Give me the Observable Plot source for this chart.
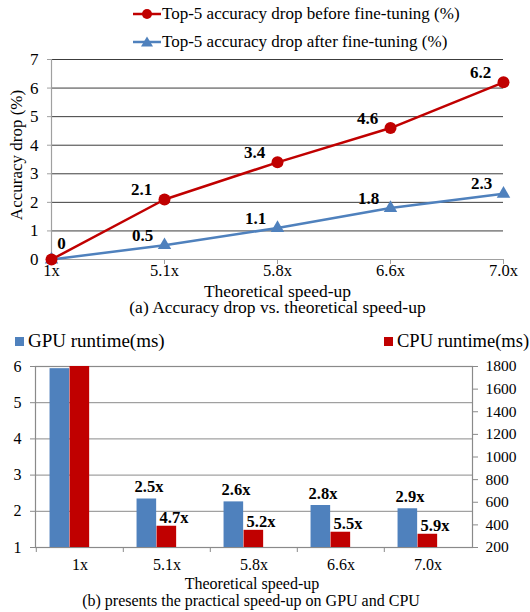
<!DOCTYPE html>
<html><head><meta charset="utf-8">
<script src="https://cdn.jsdelivr.net/npm/d3@7"></script>
<script src="https://cdn.jsdelivr.net/npm/@observablehq/plot@0.6"></script>
<style>
body{margin:0;background:#fff;font-family:"Liberation Serif","Times New Roman",Tinos,"DejaVu Serif",serif;}
#wrap{position:relative;width:530px;height:612px;overflow:hidden;background:#fff;}
.abs{position:absolute;white-space:nowrap;color:#000;line-height:0.9;font-family:"Liberation Serif","Times New Roman",Tinos,"DejaVu Serif",serif;}
svg{overflow:visible;}
</style></head><body><div id="wrap"></div>
<script>
// ---------- data ----------
const speedups = ["1x", "5.1x", "5.8x", "6.6x", "7.0x"];
const dropBefore = [0, 2.1, 3.4, 4.6, 6.2];
const dropAfter = [0, 0.5, 1.1, 1.8, 2.3];
const lineNames = ["Top-5 accuracy drop before fine-tuning (%)", "Top-5 accuracy drop after fine-tuning (%)"];
const accTicks = [0, 1, 2, 3, 4, 5, 6, 7];

const gpuRuntime = [5.94, 2.34, 2.26, 2.16, 2.07];
const cpuRuntime = [1800, 388, 352, 335, 317];
const gpuSpeedLabels = ["", "2.5x", "2.6x", "2.8x", "2.9x"];
const cpuSpeedLabels = ["", "4.7x", "5.2x", "5.5x", "5.9x"];
const barNames = ["GPU runtime(ms)", "CPU runtime(ms)"];
const gpuTicks = [1, 2, 3, 4, 5, 6];
const cpuTicks = [200, 400, 600, 800, 1000, 1200, 1400, 1600, 1800];

const titleX = "Theoretical speed-up";
const titleY = "Accuracy drop (%)";
const captionA = "(a) Accuracy drop vs. theoretical speed-up";
const captionB = "(b) presents the practical speed-up on GPU and CPU";

// ---------- styles ----------
const RED = "#C00000", BLUE = "#4F81BD";
const FONT = "'Liberation Serif', 'Times New Roman', Tinos, 'DejaVu Serif', serif";
const wrap = document.getElementById("wrap");

function addText(txt, left, top, size, extra = "") {
  const d = document.createElement("div");
  d.className = "abs";
  d.textContent = txt;
  d.style.cssText += `left:${left}px;top:${top}px;font-size:${size}px;${extra}`;
  wrap.appendChild(d);
  return d;
}
function place(el, top) {
  el.style.position = "absolute";
  el.style.left = "0px";
  el.style.top = top + "px";
  wrap.appendChild(el);
}

// ---------- top chart ----------
const lineRows = speedups.flatMap((s, i) => [
  {s, v: dropBefore[i], series: lineNames[0], i},
  {s, v: dropAfter[i], series: lineNames[1], i}
]);
const before = lineRows.filter(d => d.series === lineNames[0]);
const after = lineRows.filter(d => d.series === lineNames[1]);

const topPlot = Plot.plot({
  width: 530, height: 240,
  marginLeft: 51, marginRight: 27, marginTop: 9, marginBottom: 31,
  style: {fontFamily: FONT, fontSize: "17px", background: "transparent", color: "#000"},
  x: {type: "point", domain: speedups, padding: 0},
  y: {domain: [0, 7]},
  marks: [
    Plot.gridY(accTicks.filter(d => d > 0), {stroke: "#3c3c3c", strokeOpacity: 1, strokeWidth: 1}),
    Plot.ruleY([0], {stroke: "#a0a0a0", strokeWidth: 1.2}),
    Plot.ruleX([speedups[0]], {stroke: "#a0a0a0", strokeWidth: 1.2}),
    Plot.axisY(accTicks, {tickSize: 4, tickPadding: 9, stroke: "#a0a0a0", fill: "#000", fontSize: 17, fontFamily: FONT, label: null}),
    Plot.axisX(speedups, {tickSize: 5, tickPadding: 0, stroke: "#a0a0a0", fill: "#000", fontSize: 16.5, fontFamily: FONT, label: null}),
    Plot.line(after, {x: "s", y: "v", stroke: BLUE, strokeWidth: 2.5}),
    Plot.dot(after, {x: "s", y: "v", symbol: "triangle", r: 5, fill: BLUE, stroke: null}),
    Plot.line(before, {x: "s", y: "v", stroke: RED, strokeWidth: 2.5}),
    Plot.dot(before, {x: "s", y: "v", symbol: "circle", r: 6, fill: RED, stroke: null}),
    Plot.text(before.filter(d => d.i > 0), {x: "s", y: "v", text: d => String(d.v), dx: -23, dy: -10, fontWeight: "bold", fontSize: 17, fontFamily: FONT, fill: "#000"}),
    Plot.text(before.filter(d => d.i === 0), {x: "s", y: "v", text: d => String(d.v), dx: 10, dy: -16, fontWeight: "bold", fontSize: 17, fontFamily: FONT, fill: "#000"}),
    Plot.text(after.filter(d => d.i > 0), {x: "s", y: "v", text: d => String(d.v), dx: -22, dy: -10, fontWeight: "bold", fontSize: 17, fontFamily: FONT, fill: "#000"})
  ]
});
place(topPlot, 50);

// top legend
function legendLine(color, symbol, cy, label) {
  const ns = "http://www.w3.org/2000/svg";
  const s = document.createElementNS(ns, "svg");
  s.setAttribute("width", 30); s.setAttribute("height", 14);
  s.style.cssText = `position:absolute;left:132px;top:${cy - 7}px;`;
  const l = document.createElementNS(ns, "line");
  l.setAttribute("x1", 1); l.setAttribute("x2", 29); l.setAttribute("y1", 7); l.setAttribute("y2", 7);
  l.setAttribute("stroke", color); l.setAttribute("stroke-width", 2.5);
  s.appendChild(l);
  if (symbol === "circle") {
    const c = document.createElementNS(ns, "circle");
    c.setAttribute("cx", 15); c.setAttribute("cy", 7); c.setAttribute("r", 5); c.setAttribute("fill", color);
    s.appendChild(c);
  } else {
    const p = document.createElementNS(ns, "path");
    p.setAttribute("d", "M15,1.5L21,11.5L9,11.5Z"); p.setAttribute("fill", color);
    s.appendChild(p);
  }
  wrap.appendChild(s);
  addText(label, 162, cy, 17, "transform:translateY(-50%);");
}
legendLine(RED, "circle", 14, lineNames[0]);
legendLine(BLUE, "triangle", 42, lineNames[1]);

addText(titleY, 17, 155, 17, "transform:translate(-50%,-50%) rotate(-90deg);");
// x title and caption of (a) as one two-line block
addText(titleX + "\n" + captionA, 277.5, 282.5, 17.5, "white-space:pre;text-align:center;line-height:16.5px;transform:translateX(-50%);");

// ---------- bottom chart ----------
const cpuToY = v => gpuTicks[0] + (v - cpuTicks[0]) / (cpuTicks[cpuTicks.length - 1] - cpuTicks[0]) * (gpuTicks[gpuTicks.length - 1] - gpuTicks[0]);
const yToCpu = y => Math.round(cpuTicks[0] + (y - gpuTicks[0]) / (gpuTicks[gpuTicks.length - 1] - gpuTicks[0]) * (cpuTicks[cpuTicks.length - 1] - cpuTicks[0]));
const barRows = speedups.map((s, i) => ({s, i, gpu: gpuRuntime[i], cpu: cpuRuntime[i], gl: gpuSpeedLabels[i], cl: cpuSpeedLabels[i]}));

const BW = (530 - 35 - 58) / speedups.length; // band width in px
const botPlot = Plot.plot({
  width: 530, height: 224,
  marginLeft: 35, marginRight: 58, marginTop: 10, marginBottom: 33,
  style: {fontFamily: FONT, fontSize: "16px", background: "transparent", color: "#000"},
  x: {type: "band", domain: speedups, padding: 0},
  y: {domain: [gpuTicks[0], gpuTicks[gpuTicks.length - 1]]},
  marks: [
    Plot.gridY(gpuTicks.filter(d => d > 1), {stroke: "#8a8a8a", strokeOpacity: 1, strokeWidth: 1}),
    Plot.frame({stroke: "#8a8a8a", strokeWidth: 1.2}),
    Plot.barY(barRows, {x: "s", y1: gpuTicks[0], y2: "gpu", fill: BLUE, insetLeft: BW * 0.155, insetRight: BW - BW * 0.155 - 20}),
    Plot.barY(barRows, {x: "s", y1: gpuTicks[0], y2: d => cpuToY(d.cpu), fill: RED, insetLeft: BW * 0.155 + 20, insetRight: BW - BW * 0.155 - 40}),
    Plot.axisY(gpuTicks, {anchor: "left", tickSize: 5, tickPadding: 9, stroke: "#8a8a8a", fill: "#000", fontSize: 16, fontFamily: FONT, label: null}),
    Plot.axisY(cpuTicks.map(cpuToY), {anchor: "right", tickSize: 5, tickPadding: 8, stroke: "#8a8a8a", fill: "#000", fontSize: 15.5, fontFamily: FONT, label: null, tickFormat: d => String(yToCpu(d))}),
    Plot.axisX(speedups, {tickSize: 5, dx: -BW / 2, stroke: "#8a8a8a", tickFormat: () => "", label: null}),
    Plot.axisX(speedups, {tickSize: 0, tickPadding: 11, fill: "#000", fontSize: 16, fontFamily: FONT, label: null}),
    Plot.text(barRows.filter(d => d.gl), {x: "s", y: "gpu", text: "gl", dx: -18, dy: -12, fontWeight: "bold", fontSize: 16.5, fontFamily: FONT, fill: "#000"}),
    Plot.text(barRows.filter(d => d.cl), {x: "s", y: d => cpuToY(d.cpu), text: "cl", dx: 7, dy: -9, fontWeight: "bold", fontSize: 16.5, fontFamily: FONT, fill: "#000"})
  ]
});
place(botPlot, 356);

// bottom legend
function sq(color, left) {
  const d = document.createElement("div");
  d.style.cssText = `position:absolute;left:${left}px;top:337px;width:9px;height:9px;background:${color};`;
  wrap.appendChild(d);
}
sq(BLUE, 15); addText(barNames[0], 28, 341, 19, "transform:translateY(-50%);");
sq(RED, 384); addText(barNames[1], 397, 341, 18.5, "transform:translateY(-50%);");

addText(titleX, 252, 584, 16, "transform:translate(-50%,-50%);");
addText(captionB, 251, 600.5, 16, "transform:translate(-50%,-50%);");
</script></body></html>
